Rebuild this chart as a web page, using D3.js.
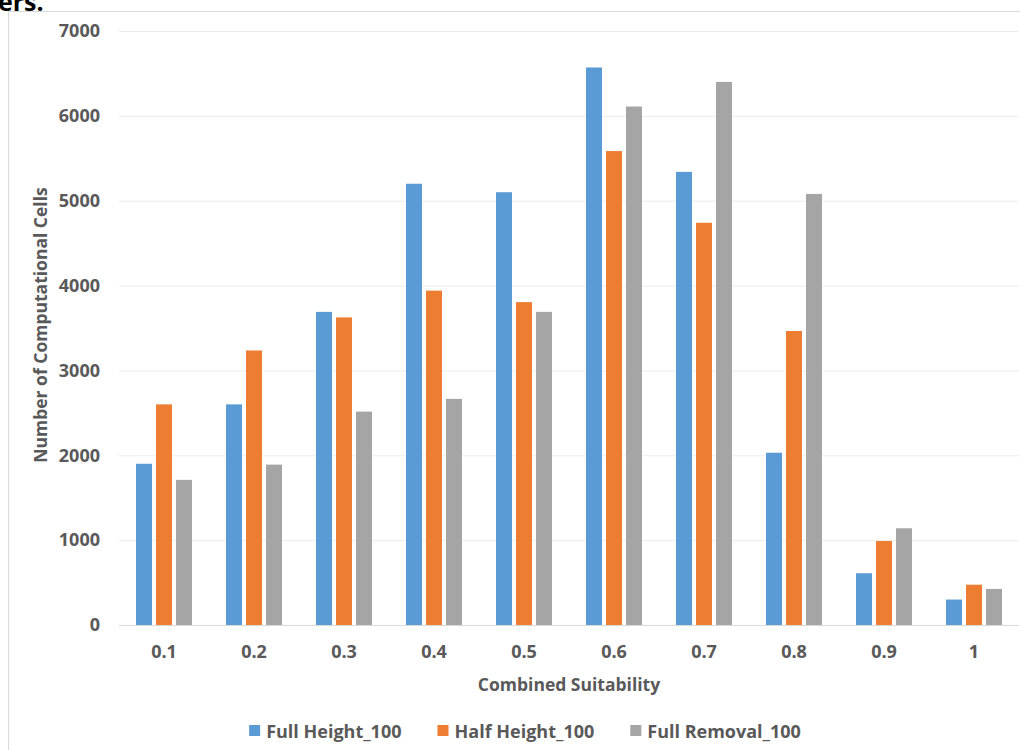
<!DOCTYPE html>
<html>
<head>
<meta charset="utf-8">
<script src="https://cdn.jsdelivr.net/npm/d3@7"></script>
<style>
  html, body { margin: 0; padding: 0; background: #fff; }
  svg { display: block; }
  text { font-family: "Open Sans", sans-serif; }
</style>
</head>
<body>
<svg id="chart" width="1020" height="750"></svg>
<script>
const categories = ["0.1", "0.2", "0.3", "0.4", "0.5", "0.6", "0.7", "0.8", "0.9", "1"];
const seriesNames = ["Full Height_100", "Half Height_100", "Full Removal_100"];
const fullHeight = [1900, 2600, 3690, 5200, 5100, 6570, 5340, 2030, 610, 300];
const halfHeight = [2600, 3235, 3625, 3940, 3805, 5585, 4740, 3465, 990, 475];
const fullRemoval = [1710, 1890, 2515, 2665, 3690, 6110, 6400, 5080, 1140, 425];
const yTicks = [0, 1000, 2000, 3000, 4000, 5000, 6000, 7000];
const colors = ["#5B9BD5", "#ED7D31", "#A5A5A5"];

const seriesValues = [fullHeight, halfHeight, fullRemoval];
const svg = d3.select("#chart");
const txt = "#595959";

// Fragment of surrounding document text (cropped at top as in the source page)
svg.append("text").attr("x", -2).attr("y", 11)
  .attr("font-family", "Liberation Serif").attr("font-weight", "bold")
  .attr("font-size", 25).attr("fill", "#000").text("ers.");

// chart frame
svg.append("rect").attr("x", 8.5).attr("y", 11.5).attr("width", 1040).attr("height", 760)
  .attr("fill", "none").attr("stroke", "#d9d9d9").attr("stroke-width", 1);

const mLeft = 119, mRight = 1019, mTop = 31, mBottom = 625;
const x0 = d3.scaleBand().domain(categories).range([mLeft, mRight]).padding(0);
const x1 = d3.scaleBand().domain(seriesNames).range([17, 73]).paddingInner(0.2).paddingOuter(0);
const y = d3.scaleLinear().domain([0, 7000]).range([mBottom, mTop]);

// gridlines + y labels
const yAxis = d3.axisLeft(y).tickValues(yTicks).tickSize(-(mRight - mLeft)).tickPadding(19).tickFormat(d3.format("d"));
const gy = svg.append("g").attr("transform", `translate(${mLeft},0)`).call(yAxis);
gy.select(".domain").remove();
gy.selectAll(".tick line").attr("stroke", d => d === 0 ? "#d9d9d9" : "#ececec").attr("stroke-width", 1);
gy.selectAll(".tick text").attr("fill", txt).attr("font-size", 18).attr("font-weight", 700)
  .attr("font-family", "Open Sans");

// bars
const groups = svg.append("g").selectAll("g").data(categories).join("g")
  .attr("transform", d => `translate(${x0(d)},0)`);
groups.selectAll("rect").data((d, i) => seriesNames.map((s, k) => ({ s, k, v: seriesValues[k][i] })))
  .join("rect")
  .attr("x", d => x1(d.s))
  .attr("width", x1.bandwidth())
  .attr("y", d => y(d.v))
  .attr("height", d => y(0) - y(d.v))
  .attr("fill", d => colors[d.k]);

// x axis labels
const xAxis = d3.axisBottom(x0).tickSize(0).tickPadding(20);
const gx = svg.append("g").attr("transform", `translate(0,${mBottom})`).call(xAxis);
gx.select(".domain").remove();
gx.selectAll(".tick text").attr("fill", txt).attr("font-size", 18).attr("font-weight", 700)
  .attr("font-family", "Open Sans");

// axis titles
svg.append("text").attr("x", (mLeft + mRight) / 2).attr("y", 691).attr("text-anchor", "middle")
  .attr("fill", txt).attr("font-size", 17.5).attr("font-weight", 700).text("Combined Suitability");
svg.append("text").attr("transform", `translate(47,${(mTop + mBottom) / 2 - 3}) rotate(-90)`)
  .attr("text-anchor", "middle").attr("fill", txt).attr("font-size", 17.5).attr("font-weight", 700)
  .text("Number of Computational Cells");

// legend
const legend = svg.append("g");
const items = legend.selectAll("g").data(seriesNames).join("g");
items.append("rect").attr("width", 11).attr("height", 11).attr("y", -6).attr("fill", (d, i) => colors[i]);
items.append("text").attr("x", 17).attr("y", 6.5)
  .attr("fill", txt).attr("font-size", 18).attr("font-weight", 700).text(d => d);
let widths = [];
items.each(function () { widths.push(this.getBBox().width); });
const gap = 36;
const total = d3.sum(widths) + gap * (widths.length - 1);
let cx = 525 - total / 2;
items.attr("transform", (d, i) => { const t = `translate(${cx},${731})`; cx += widths[i] + gap; return t; });
</script>
</body>
</html>
